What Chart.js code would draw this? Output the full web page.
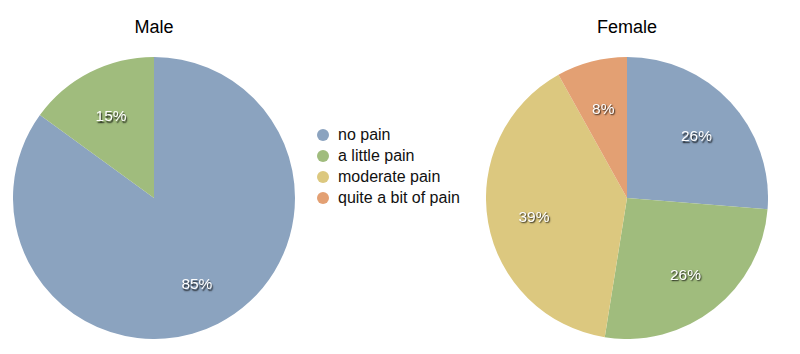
<!DOCTYPE html>
<html>
<head>
<meta charset="utf-8">
<script src="https://cdn.jsdelivr.net/npm/chart.js@4/dist/chart.umd.min.js"></script>
<style>
  html, body { margin: 0; padding: 0; background: #fff; }
  #wrap { position: relative; width: 800px; height: 354px; overflow: hidden; font-family: "Liberation Sans", Arial, Helvetica, sans-serif; }
  .cv { position: absolute; }
  .title { position: absolute; font-size: 18px; color: #000; text-align: center; width: 200px; line-height: 20px; }
  .leg { position: absolute; left: 317px; font-size: 16px; color: #111; line-height: 20px; white-space: nowrap; }
  .leg span.dot { display: inline-block; width: 12px; height: 12px; border-radius: 50%; margin-right: 9px; vertical-align: -1px; }
</style>
</head>
<body>
<div id="wrap">
  <div class="title" id="t1" style="left:54px; top:17px;"></div>
  <div class="title" id="t2" style="left:527px; top:17px;"></div>
  <canvas id="c1" class="cv" style="left:13px; top:57px;" width="282" height="282"></canvas>
  <canvas id="c2" class="cv" style="left:486px; top:57px;" width="282" height="282"></canvas>
  <div id="legend"></div>
</div>
<script>
const categories = ["no pain", "a little pain", "moderate pain", "quite a bit of pain"];
const colors = ["#8BA3BF", "#A0BC7D", "#DCC87F", "#E3A073"];
const maleTitle = "Male";
const femaleTitle = "Female";
const maleValues = [85, 15];
const femaleValues = [26, 26, 39, 8];

document.getElementById('t1').textContent = maleTitle;
document.getElementById('t2').textContent = femaleTitle;

const legend = document.getElementById('legend');
categories.forEach((c, i) => {
  const d = document.createElement('div');
  d.className = 'leg';
  d.style.top = (125 + i * 21) + 'px';
  d.innerHTML = '<span class="dot" style="background:' + colors[i] + '"></span>';
  d.appendChild(document.createTextNode(c));
  legend.appendChild(d);
});

const labelPlugin = {
  id: 'sliceLabels',
  afterDatasetsDraw(chart) {
    const ctx = chart.ctx;
    const meta = chart.getDatasetMeta(0);
    const data = chart.data.datasets[0].data;
    ctx.save();
    ctx.font = '15.5px "Liberation Sans", Arial, sans-serif';
    ctx.textAlign = 'center';
    ctx.textBaseline = 'middle';
    ctx.fillStyle = '#ffffff';
    ctx.shadowColor = 'rgba(0,0,0,0.85)';
    ctx.shadowOffsetX = 1;
    ctx.shadowOffsetY = 1.5;
    ctx.shadowBlur = 1.5;
    meta.data.forEach((arc, i) => {
      const p = arc.getProps(['x','y','startAngle','endAngle','outerRadius'], true);
      const mid = (p.startAngle + p.endAngle) / 2;
      const r = p.outerRadius * 0.67;
      ctx.fillText(data[i] + '%', p.x + Math.cos(mid) * r, p.y + Math.sin(mid) * r + 3);
    });
    ctx.restore();
  }
};

function makePie(id, values) {
  new Chart(document.getElementById(id), {
    type: 'pie',
    data: {
      labels: categories.slice(0, values.length),
      datasets: [{ data: values, backgroundColor: colors.slice(0, values.length), borderWidth: 0 }]
    },
    options: {
      responsive: false,
      animation: false,
      layout: { padding: 0 },
      plugins: { legend: { display: false }, tooltip: { enabled: false } }
    },
    plugins: [labelPlugin]
  });
}
makePie('c1', maleValues);
makePie('c2', femaleValues);
</script>
</body>
</html>
